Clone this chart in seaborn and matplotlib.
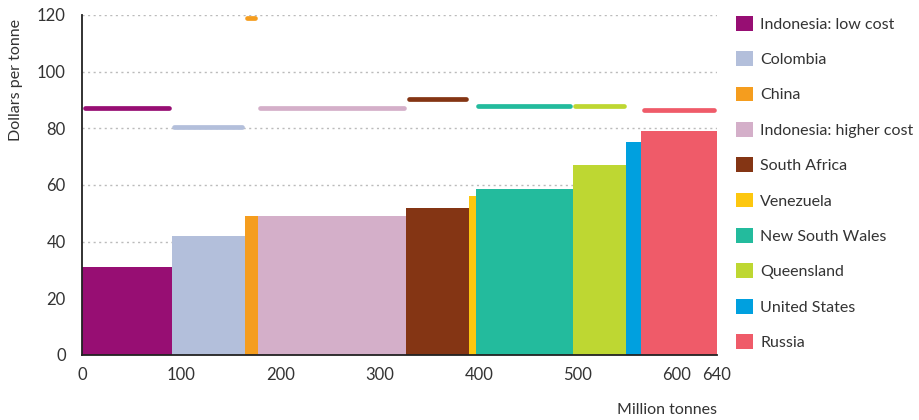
import numpy as np
import pandas as pd
import seaborn as sns
import matplotlib.pyplot as plt
from matplotlib.patches import Patch

# coal supply cost curve: capacity (Mt), cash cost and price ($/t)
regions = ['Indonesia: low cost', 'Colombia', 'China', 'Indonesia: higher cost',
           'South Africa', 'Venezuela', 'New South Wales', 'Queensland',
           'United States', 'Russia']
capacity = [90, 74, 13, 150, 63, 7, 98, 54, 15, 76]
cost = [31, 42, 49, 49, 52, 56, 58.5, 67, 75, 79]
price = [87, 80.5, 119, 87, 90.5, np.nan, 88, 88, np.nan, 86.5]
colors = ['#970E73', '#B3BFDB', '#F59D1E', '#D4AFC9', '#843514',
          '#FDC70F', '#23BB9D', '#BED732', '#00A0DF', '#EF5B69']
x_ticks = [0, 100, 200, 300, 400, 500, 600, 640]
y_ticks = [0, 20, 40, 60, 80, 100, 120]

sns.set_style('white')
plt.rcParams['font.family'] = ['Lato', 'DejaVu Sans']
plt.rcParams['text.color'] = '#333333'
plt.rcParams['xtick.color'] = '#333333'
plt.rcParams['ytick.color'] = '#333333'

df = pd.DataFrame({'region': regions, 'capacity': capacity, 'cost': cost,
                   'price': price, 'color': colors})
df['start'] = df['capacity'].cumsum() - df['capacity']
df['end'] = df['capacity'].cumsum()

fig = plt.figure(figsize=(9.19, 4.2), dpi=100)
ax = fig.add_axes([0.0896, 0.1548, 0.6902, 0.8095])

for y in y_ticks[1:]:
    ax.axhline(y, color='#bbbbbb', lw=1, ls=(0, (1.5, 2.5)), zorder=0)

ax.bar(df['start'], df['cost'], width=df['capacity'], align='edge',
       color=df['color'], linewidth=0, zorder=2)

# price lines above each bar
for _, r in df.dropna(subset=['price']).iterrows():
    ax.plot([r['start'] + 2.5, r['end'] - 2.5], [r['price'], r['price']],
            color=r['color'], lw=3.4, solid_capstyle='round', zorder=3)

ax.set_xlim(0, 640)
ax.set_ylim(0, 120)
ax.set_xticks(x_ticks)
ax.set_yticks(y_ticks)
ax.tick_params(axis='both', direction='out', length=5, width=1.2,
               labelsize=12, pad=4)
ax.tick_params(axis='y', pad=7)
sns.despine(ax=ax)
for s in ['left', 'bottom']:
    ax.spines[s].set_color('#222222')
    ax.spines[s].set_linewidth(1.3)
ax.spines['left'].set_zorder(4)
ax.spines['bottom'].set_zorder(4)

fig.text(0.017, 0.955, 'Dollars per tonne', rotation=90, ha='center', va='top',
         fontsize=11.5)
fig.text(0.78, 0.023, 'Million tonnes', ha='right', va='center', fontsize=11.5)

handles = [Patch(facecolor=c, edgecolor='none') for c in colors]
ax.legend(handles, regions, loc='upper left', bbox_to_anchor=(1.021, 1.016),
          frameon=False, fontsize=11.5, handlelength=1.05, handleheight=1.05,
          handletextpad=0.45, labelspacing=1.22, borderaxespad=0)

fig.savefig('out.png', dpi=100)
